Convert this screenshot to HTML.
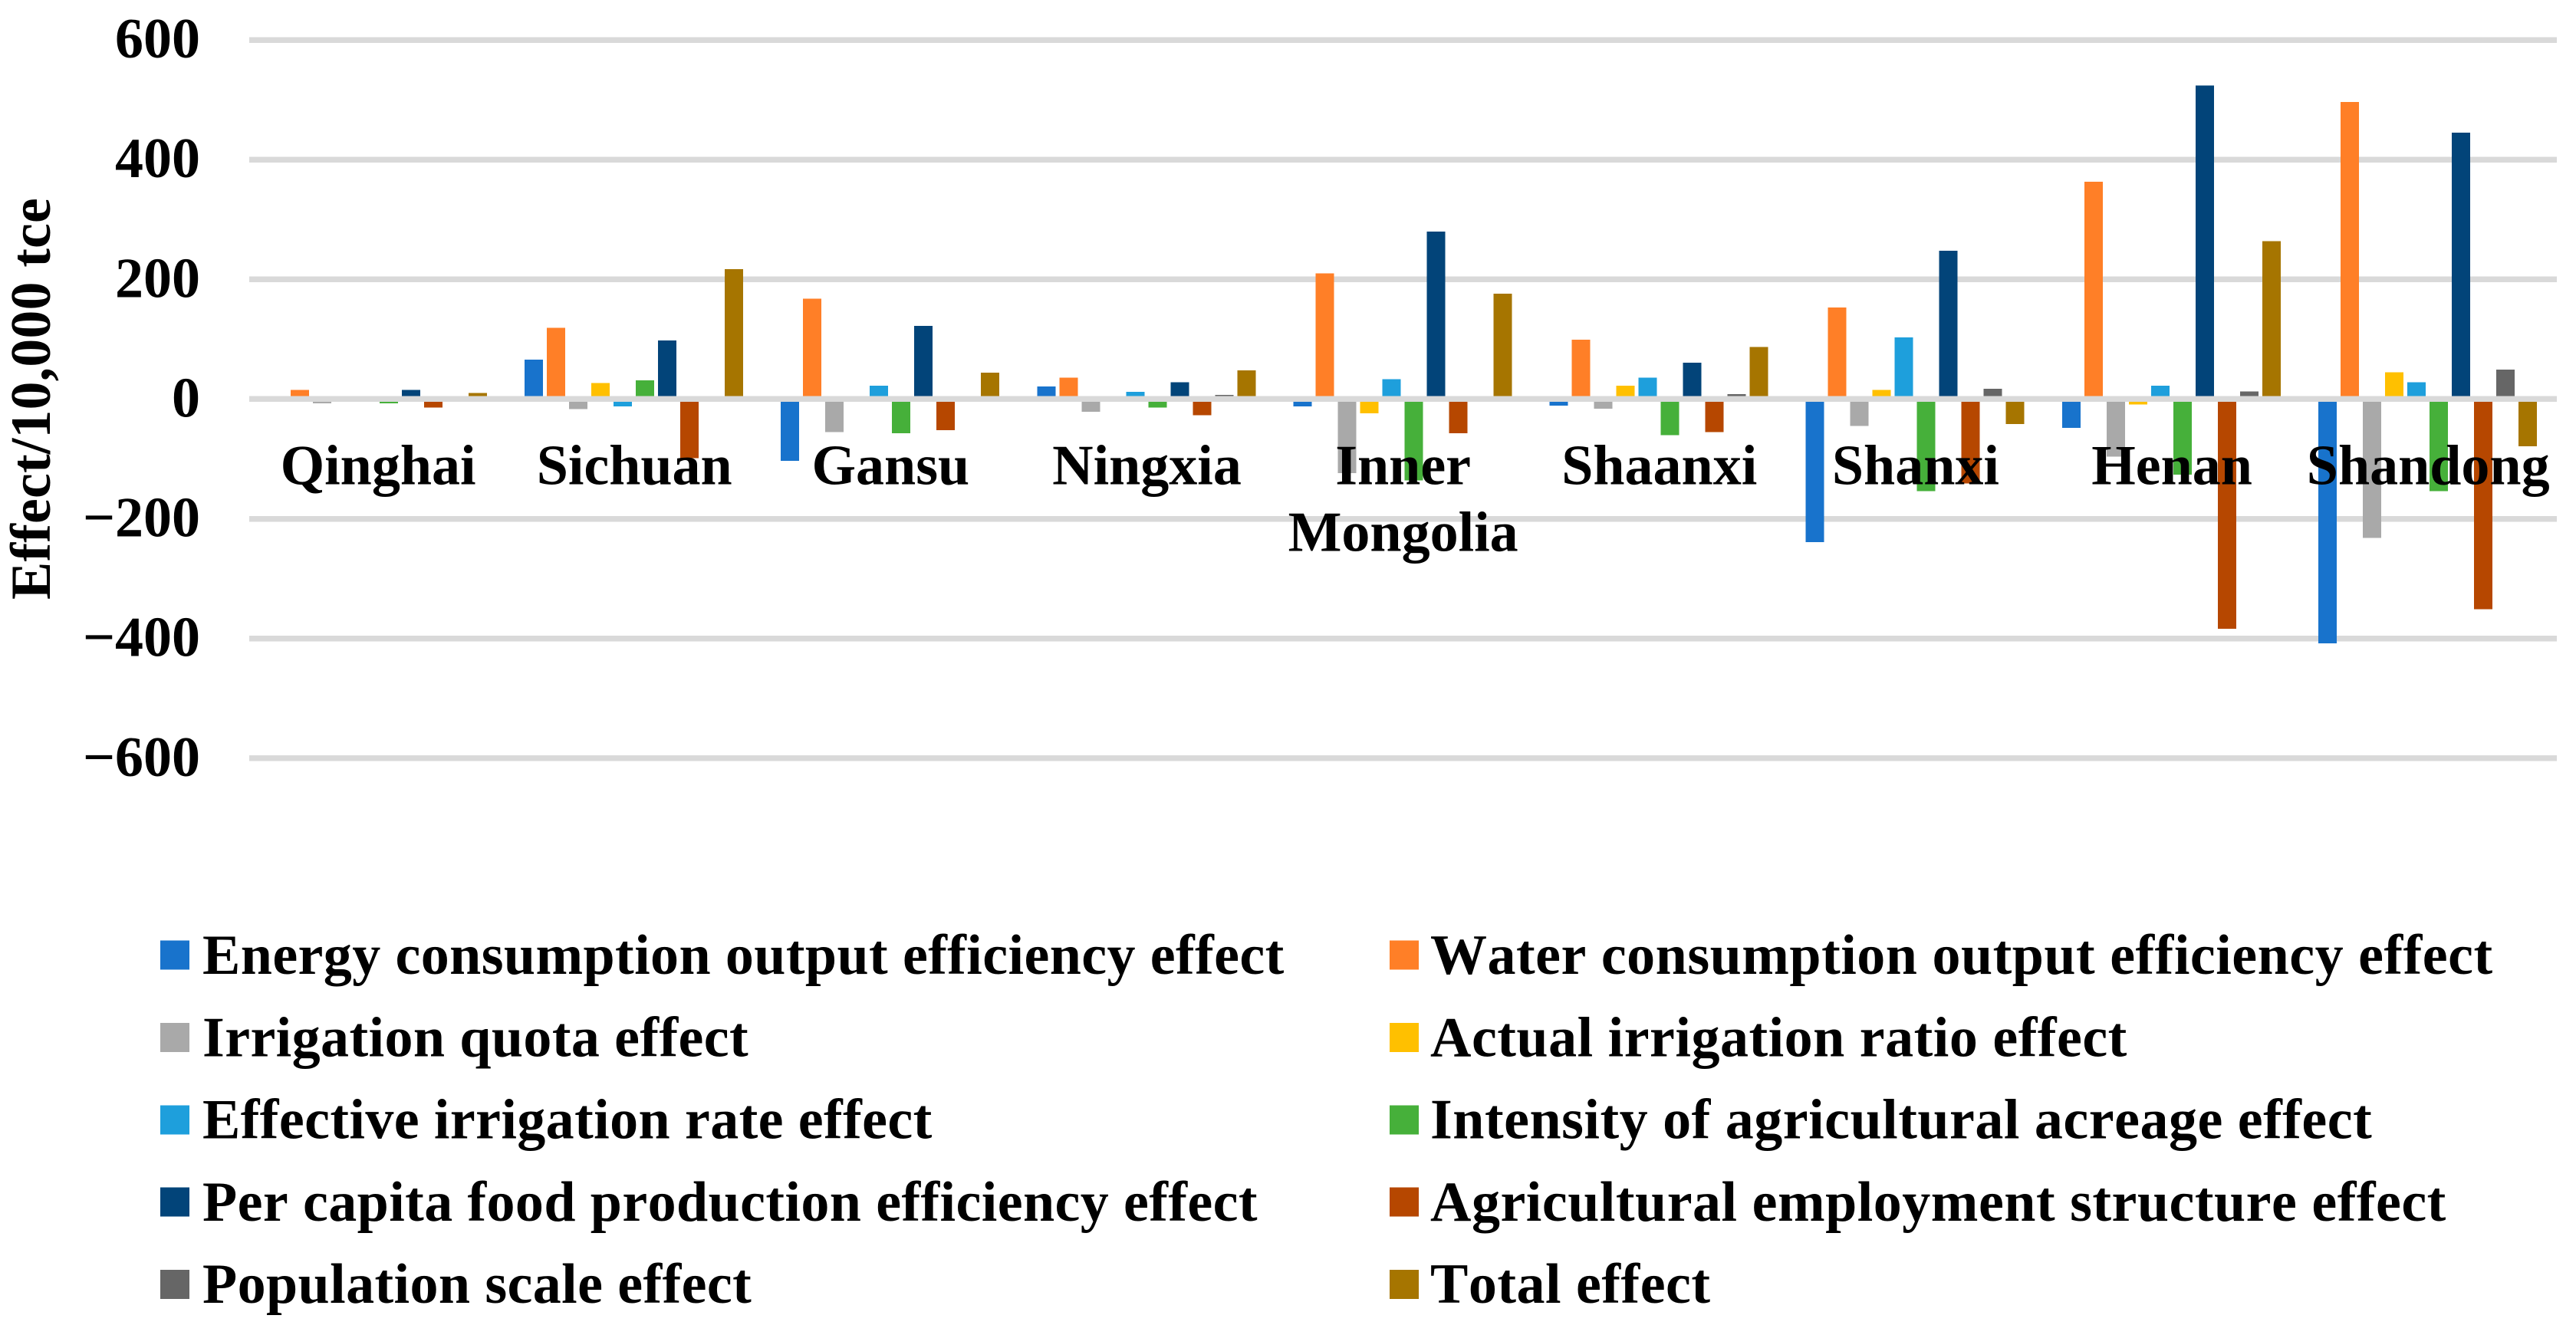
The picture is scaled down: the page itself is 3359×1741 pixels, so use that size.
<!DOCTYPE html>
<html lang="en">
<head>
<meta charset="utf-8">
<title>Effect by province</title>
<style>
html,body{margin:0;padding:0;background:#fff;}
svg{display:block;}
text{font-family:"Liberation Serif",serif;font-weight:700;fill:#000;font-size:74px;font-kerning:none;}
.legend-left{letter-spacing:0.4px;}
.legend-right{letter-spacing:0.5px;}
#y-title{letter-spacing:0.12px;}
rect{shape-rendering:crispEdges;}
</style>
</head>
<body>
<svg id="chart" xmlns="http://www.w3.org/2000/svg" width="3359" height="1741" viewBox="0 0 3359 1741">
  <rect x="0" y="0" width="3359" height="1741" fill="#ffffff"/>
  <g id="grid"></g>
  <g id="bars"></g>
  <g id="zero"></g>
  <g id="ylabels"></g>
  <g id="xlabels"></g>
  <text id="y-title" transform="translate(65,520) rotate(-90)" text-anchor="middle">Effect/10,000 tce</text>
  <g id="legend"></g>
</svg>
<script>
const categories = ["Qinghai","Sichuan","Gansu","Ningxia","Inner Mongolia","Shaanxi","Shanxi","Henan","Shandong"];
const tickValues = [600,400,200,0,-200,-400,-600];
const tickLabels = ["600","400","200","0","\u2212200","\u2212400","\u2212600"];
const seriesNames = [
  "Energy consumption output efficiency effect",
  "Water consumption output efficiency effect",
  "Irrigation quota effect",
  "Actual irrigation ratio effect",
  "Effective irrigation rate effect",
  "Intensity of agricultural acreage effect",
  "Per capita food production efficiency effect",
  "Agricultural employment structure effect",
  "Population scale effect",
  "Total effect"
];
const energyEfficiency = [0,66,-103,21,-12,-11,-239,-48,-408];
const waterEfficiency = [15,119,168,36,210,99,153,363,496];
const irrigationQuota = [-7,-17,-55,-21,-124,-16,-45,-96,-232];
const irrigationRatio = [0,27,0,0,-24,22,15,-9,45];
const irrigationRate = [0,-12,22,12,33,36,103,22,28];
const acreageIntensity = [-7,31,-57,-14,-136,-60,-154,-126,-154];
const foodEfficiency = [15,98,122,28,280,61,248,524,445];
const employmentStructure = [-14,-99,-52,-27,-57,-55,-141,-384,-351];
const populationScale = [0,0,0,7,0,8,17,13,49];
const totalEffect = [10,217,44,48,176,87,-42,264,-79];
const seriesValues = [energyEfficiency,waterEfficiency,irrigationQuota,irrigationRatio,irrigationRate,acreageIntensity,foodEfficiency,employmentStructure,populationScale,totalEffect];
const seriesColors = ["#1873CC","#FF7F27","#A9A9A9","#FFC000","#1E9FDC","#46B03A","#024479","#B64700","#666666","#A67500"];

const NS = "http://www.w3.org/2000/svg";
const plotLeft = 325, plotRight = 3334, yTop = 52, unitPx = 0.7807;
const catWidth = 334.14;
const barWidth = 24, barStep = 29, catPad = 24.9;
const yScale = v => yTop + (600 - v) * unitPx;
const xBar = (c, s) => plotLeft + c * catWidth + catPad + s * barStep;
const xCenter = c => plotLeft + (c + 0.5) * catWidth + 1;

function rect(parent, x, y, w, h, fill) {
  const r = document.createElementNS(NS, "rect");
  r.setAttribute("x", x);
  r.setAttribute("y", y);
  r.setAttribute("width", w);
  r.setAttribute("height", h);
  r.setAttribute("fill", fill);
  parent.appendChild(r);
  return r;
}
function label(parent, x, y, str, anchor) {
  const t = document.createElementNS(NS, "text");
  t.setAttribute("x", x);
  t.setAttribute("y", y);
  t.setAttribute("text-anchor", anchor);
  t.textContent = str;
  parent.appendChild(t);
  return t;
}
function slug(s) { return s.toLowerCase().replace(/[^a-z0-9]+/g, "-"); }

const grid = document.getElementById("grid");
const zero = document.getElementById("zero");
const ylabels = document.getElementById("ylabels");
tickValues.forEach((v, i) => {
  const y = yScale(v);
  const target = v === 0 ? zero : grid;
  const line = rect(target, plotLeft, y - 3.75, plotRight - plotLeft, 7.5, "#D9D9D9");
  
  
  const t = label(ylabels, 261, y + 23, tickLabels[i], "end");
  
  
});

const bars = document.getElementById("bars");
seriesValues.forEach((values, s) => {
  values.forEach((v, c) => {
    if (v === 0) return;
    const y0 = yScale(0), y1 = yScale(v);
    const b = rect(bars, xBar(c, s), Math.min(y0, y1), barWidth, Math.abs(y1 - y0), seriesColors[s]);
    
    
  });
});

const xlabels = document.getElementById("xlabels");
const lineHeight = 87, catBaseline = 631.5;
categories.forEach((name, c) => {
  const lines = name.split(" ");
  lines.forEach((part, i) => {
    const t = label(xlabels, xCenter(c), catBaseline + i * lineHeight, part, "middle");
    
    
  });
});

const legend = document.getElementById("legend");
seriesNames.forEach((name, s) => {
  const col = s % 2, row = Math.floor(s / 2);
  const swatchX = col ? 1812 : 209;
  const textX = col ? 1865 : 264;
  const swatch = rect(legend, swatchX, 1226.5 + row * 107.4, 38, 38, seriesColors[s]);
  
  
  const t = label(legend, textX, 1270 + row * 107.25, name, "start");
  t.setAttribute("class", col ? "legend-right" : "legend-left");
  
  
});
</script>
</body>
</html>
